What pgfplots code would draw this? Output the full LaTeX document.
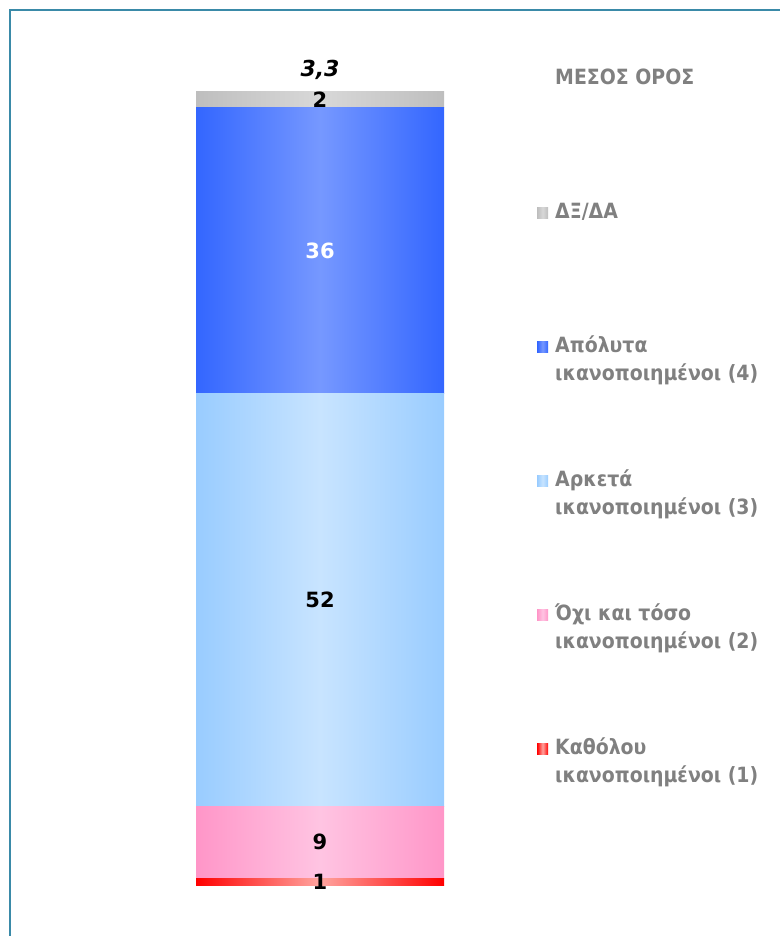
\documentclass[border=0pt]{standalone}
\usepackage{fontspec}
\setmainfont{DejaVu Sans Condensed}
\newfontfamily\numfont{DejaVu Sans}
\usepackage{pgfplots}
\pgfplotsset{compat=1.18}
\definecolor{framecol}{RGB}{58,138,168}
\definecolor{lgdgray}{RGB}{128,128,128}
\definecolor{greyE}{RGB}{190,190,190}\definecolor{greyM}{RGB}{216,216,216}
\definecolor{blueE}{RGB}{51,102,255}\definecolor{blueM}{RGB}{118,152,255}
\definecolor{lblueE}{RGB}{153,204,255}\definecolor{lblueM}{RGB}{200,228,255}
\definecolor{pinkE}{RGB}{255,150,200}\definecolor{pinkM}{RGB}{255,196,226}
\definecolor{redE}{RGB}{255,0,0}\definecolor{redM}{RGB}{255,165,160}
\protected\def\lgd#1#2{\parbox[t]{230pt}{#1\par #2}}
\begin{document}
\begin{tikzpicture}
\path[use as bounding box] (0,0) rectangle (779pt,936pt);
\draw[framecol, line width=2.5pt] (10pt,-5pt) -- (10pt,926pt) -- (790pt,926pt);
\begin{axis}[
  at={(196pt,50pt)}, anchor=south west,
  scale only axis, width=248pt, height=794pt,
  xmin=-0.5, xmax=0.5, ymin=0, ymax=100,
  ybar stacked, bar width=248pt,
  hide axis, clip=false,
  reverse legend,
  legend image code/.code={\fill[#1,draw=none] (0pt,0pt) rectangle (11pt,11pt);},
  legend style={at={(axis description cs:1.375,1.0353)}, anchor=north west,
    draw=none, fill=none, inner sep=0pt, column sep=7pt, row sep=0pt,
    cells={anchor=base west},
    nodes={inner sep=0pt, text height=20pt, text depth=114pt, text=lgdgray,
      font=\fontsize{21}{28.5}\selectfont\bfseries}},
]
\addplot[draw=none, left color=redE, right color=redE, middle color=redM] coordinates {(0,1)};
\addlegendentry{\lgd{Καθόλου}{ικανοποιημένοι (1)}}
\addplot[draw=none, left color=pinkE, right color=pinkE, middle color=pinkM] coordinates {(0,9)};
\addlegendentry{\lgd{Όχι και τόσο}{ικανοποιημένοι (2)}}
\addplot[draw=none, left color=lblueE, right color=lblueE, middle color=lblueM] coordinates {(0,52)};
\addlegendentry{\lgd{Αρκετά}{ικανοποιημένοι (3)}}
\addplot[draw=none, left color=blueE, right color=blueE, middle color=blueM] coordinates {(0,36)};
\addlegendentry{\lgd{Απόλυτα}{ικανοποιημένοι (4)}}
\addplot[draw=none, left color=greyE, right color=greyE, middle color=greyM] coordinates {(0,2)};
\addlegendentry{ΔΞ/ΔΑ}
\addlegendimage{empty legend}
\addlegendentry{ΜΕΣΟΣ ΟΡΟΣ}
\coordinate (l1) at (axis cs:0,0.5);
\coordinate (l9) at (axis cs:0,5.5);
\coordinate (l52) at (axis cs:0,36);
\coordinate (l36) at (axis cs:0,80);
\coordinate (l2) at (axis cs:0,99);
\coordinate (lm) at (axis cs:0,100);
\end{axis}
\begin{scope}[every node/.style={font=\numfont\fontsize{21}{24}\selectfont\bfseries, anchor=center}]
\node at (l1) {1};
\node at (l9) {9};
\node at (l52) {52};
\node[text=white] at (l36) {36};
\node at (l2) {2};
\node[anchor=base, yshift=15pt, font=\numfont\fontsize{22}{24}\selectfont\bfseries\itshape] at (lm) {3,3};
\end{scope}
\end{tikzpicture}
\end{document}
